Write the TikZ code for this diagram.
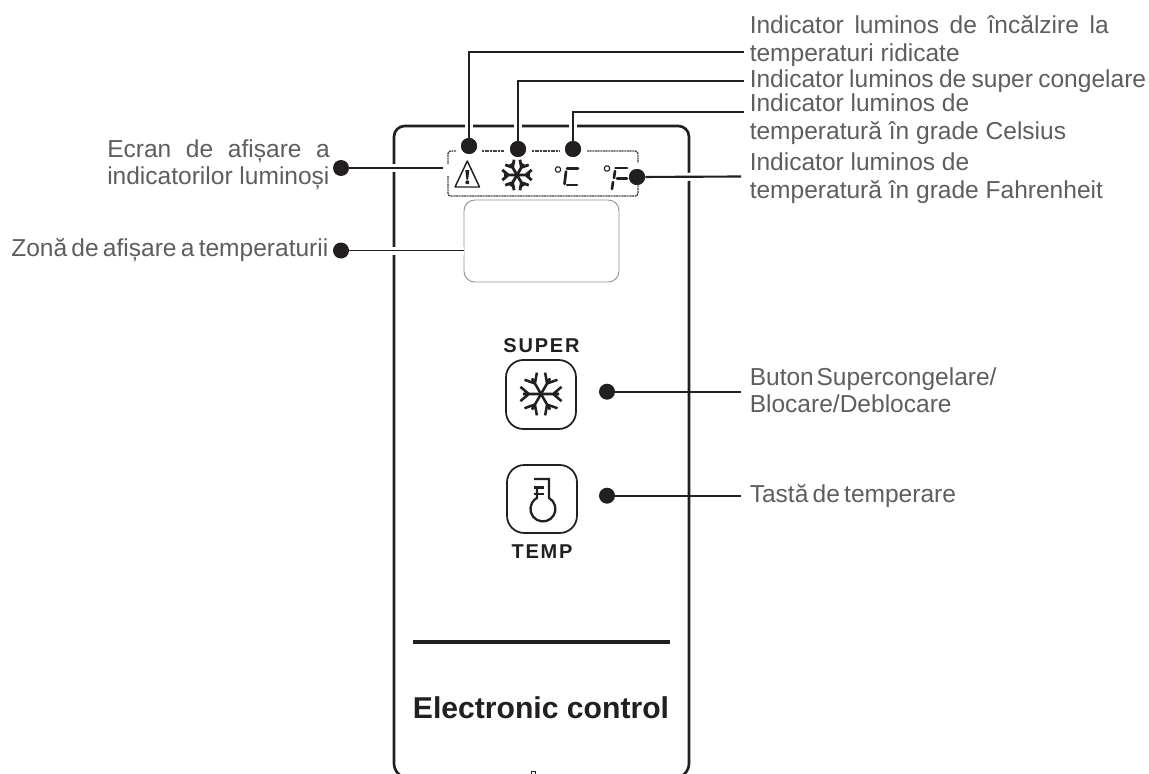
\documentclass[tikz,border=0pt]{standalone}
\usepackage{fontspec}
\setmainfont{Liberation Sans}
\definecolor{txt}{HTML}{5E5E5E}
\definecolor{ink}{HTML}{231F20}
\newcommand{\wsp}[1]{\spaceskip=#1pt\relax}
\newcommand{\flake}[4]{%
 \foreach \ang in {0,60,...,300}{%
  \begin{scope}[shift={(#1,#2)},rotate=\ang,scale=#3]
   \draw[ink,line width=#4pt] (0,0) -- (0.86,0) (0.58,0) -- (0.98,-0.34) (0.58,0) -- (0.98,0.34);
  \end{scope}}}
\tikzset{
 x=0.75pt,y=-0.75pt,
 lab/.style={anchor=base west,inner sep=0,text=txt,font=\fontsize{18.4pt}{22pt}\selectfont},
 dot/.style={circle,fill=ink,draw=none,minimum size=12pt,inner sep=0},
 lead/.style={draw=ink,line width=1.6pt},
 thinlead/.style={draw=ink,line width=1.3pt},
 panel/.style={draw=ink,line width=2pt,rounded corners=8pt},
 btn/.style={draw=ink,line width=1.3pt,rounded corners=13pt},
 knock/.style={draw=white,line width=6pt},
 dashbox/.style={draw=ink!85,line width=1pt,dash pattern=on 1.5pt off 0.5pt},
 seg/.style={ink,line width=2pt,line cap=round},
 deg/.style={ink,line width=0.8pt,rounded corners=1pt},
 caps/.style={inner sep=0,anchor=base,text=ink,font=\fontsize{15pt}{18pt}\selectfont\bfseries\addfontfeature{LetterSpace=9}},
}
\begin{document}
\begin{tikzpicture}
\useasboundingbox (0,0) rectangle (1149,774);
\fill[white] (0,0) rectangle (1149,774);
% panel
\draw[panel] (394,400) -- (394,126) -- (689,126) -- (689,400);
\draw[panel,rounded corners=11pt] (394,400) -- (394,778) -- (689,778) -- (689,400);
% dashed box
\draw[dashbox,rounded corners=2pt] (456,151) -- (448,151) -- (448,164);
\draw[dashbox,rounded corners=2pt] (448,176) -- (448,196) -- (638,196) -- (638,185);
\draw[dashbox,rounded corners=2pt] (587,151) -- (638,151) -- (638,163);
\draw[dashbox] (482,151) -- (504,151);
\draw[dashbox] (532,151) -- (559,151);
% display
\draw[draw=gray!85,line width=0.7pt,rounded corners=8pt] (464,200) rectangle (619,282);
% dots
\node[dot] (d1) at (469,146) {};
\node[dot] (d2) at (518,149) {};
\node[dot] (d3) at (573,149) {};
\node[dot] (d4) at (637,177) {};
\node[dot] (d5) at (341,168) {};
\node[dot] (d6) at (341,250.5) {};
\node[dot] (d7) at (607,391.7) {};
\node[dot] (d8) at (607,495.7) {};
\coordinate (e1) at (744,52);
\coordinate (e2) at (744,81);
\coordinate (e3) at (744,112);
\coordinate (e4) at (741,176.5);
\coordinate (e5) at (443,168);
\coordinate (e6) at (464,250.5);
\coordinate (e7) at (741,391.7);
\coordinate (e8) at (741,495.7);
\foreach \a/\b in {d1/e1,d2/e2,d3/e3}{ \draw[knock] (\a) -- (\a |- \b); }
\draw[knock] (d4) -- (e4);
\draw[knock] (d5) -- (e5);
\draw[knock] (d6) -- (e6);
\draw[lead] (d1) |- (e1);
\draw[lead] (d2) |- (e2);
\draw[lead] (d3) |- (e3);
\draw[lead] (d4) -- (e4);
\draw[thinlead] (d5) -- (e5);
\draw[thinlead] (d6) -- (e6);
\draw[thinlead] (d7) -- (e7);
\draw[thinlead] (d8) -- (e8);
\foreach \n in {d1,d2,d3,d4}{ \node[dot] at (\n) {}; }
% warning icon
\draw[ink,line width=1.1pt,line join=round] (467.3,161) -- (455,187) -- (479.5,187) -- cycle;
\fill[ink] (465.3,170) -- (469.3,170) -- (468.2,179.5) -- (466.4,179.5) -- cycle;
\fill[ink] (467.3,182.3) circle (2);
% snowflakes
\flake{517}{175}{15}{2.1}
\flake{541}{394}{21}{1.9}
% degree C / F
\draw[deg] (555.5,167) rectangle (560.5,172);
\draw[seg] (567,168.3) -- (578,168.3);
\draw[seg] (566,171.5) -- (564.5,184);
\draw[seg] (567,185) -- (577,185);
\draw[deg] (604.5,166) rectangle (609.5,171);
\draw[seg] (615.5,168) -- (627,168);
\draw[seg] (615,171) -- (614,178);
\draw[seg] (613,182) -- (612,189);
\draw[seg] (617,178.3) -- (627,178.3);
% buttons
\draw[btn] (506,360) rectangle (576,429);
\draw[btn] (507,465) rectangle (577,533);
\node[caps] (super) at (541.5,352) {SUPER};
\node[caps] (temp) at (542,558) {TEMP};
% thermometer
\draw[ink,line width=1.7pt] (534,479) -- (549,479) -- (549,498) arc[start angle=-61,end angle=241,radius=12.5] -- (537,486);
\draw[ink,line width=1.7pt] (534,487.5) -- (544,487.5) (534,494) -- (544,494);
% separator
\draw[ink,line width=3pt] (413,642) -- (670,642);
\node[anchor=base,inner sep=0,text=ink,font=\fontsize{22.6pt}{26pt}\selectfont\bfseries] (ec) at (541,718) {Electronic control};
\draw[ink,line width=0.6pt] (531.5,775) -- (531.5,771.5) -- (535.5,771.5) -- (535.5,775);
% labels
\node[lab] (l1a) at (749.5,34) {\wsp{8}Indicator luminos de încălzire la};
\node[lab] (l1b) at (749.5,62) {temperaturi ridicate};
\node[lab] (l2) at (749.5,88) {\wsp{4}Indicator luminos de super congelare};
\node[lab] (l3a) at (749.5,112) {Indicator luminos de};
\node[lab] (l3b) at (749.5,139) {temperatură în grade Celsius};
\node[lab] (l4a) at (749.5,170) {Indicator luminos de};
\node[lab] (l4b) at (749.5,198) {temperatură în grade Fahrenheit};
\node[lab] (l5a) at (107,157) {\wsp{11}Ecran de afișare a};
\node[lab] (l5b) at (107,184) {indicatorilor luminoși};
\node[lab] (l6) at (11,256) {\wsp{3.2}Zonă de afișare a temperaturii};
\node[lab] (l7a) at (749.5,385) {\wsp{2}Buton Supercongelare/};
\node[lab] (l7b) at (749.5,412) {Blocare/Deblocare};
\node[lab] (l8) at (749.5,502) {\wsp{3.2}Tastă de temperare};
\end{tikzpicture}
\end{document}
